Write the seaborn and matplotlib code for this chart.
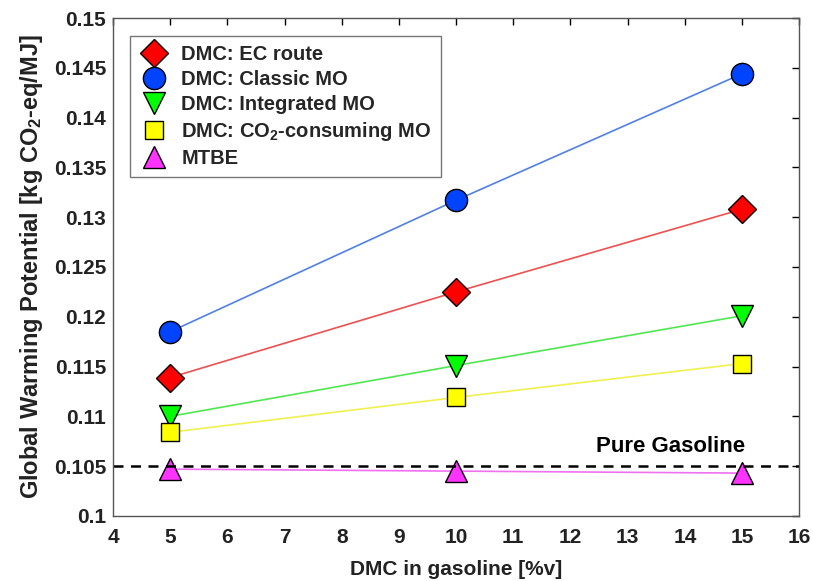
import matplotlib
matplotlib.use("Agg")
import matplotlib.pyplot as plt
import seaborn as sns
import pandas as pd

sns.set_theme(style="white")
plt.rcParams["font.family"] = ["Liberation Sans", "DejaVu Sans"]
plt.rcParams["mathtext.fontset"] = "custom"
plt.rcParams["mathtext.rm"] = "Liberation Sans:bold"
plt.rcParams["mathtext.default"] = "rm"

# data
dmc_share = [5, 10, 15]
ec_route = [0.1139, 0.1225, 0.1308]
classic_mo = [0.1185, 0.1317, 0.1444]
integrated_mo = [0.1100, 0.1151, 0.1201]
co2_consuming_mo = [0.1084, 0.1119, 0.1153]
mtbe = [0.1047, 0.1045, 0.1043]
pure_gasoline = 0.105

series = [
    ("DMC: EC route", ec_route, "#f05050", "#ff0000", "D", 14),
    ("DMC: Classic MO", classic_mo, "#5080e8", "#0044ff", "o", 16),
    ("DMC: Integrated MO", integrated_mo, "#50e850", "#00ff00", "v", 16),
    ("DMC: CO$_2$-consuming MO", co2_consuming_mo, "#f0f050", "#ffff00", "s", 12.5),
    ("MTBE", mtbe, "#f070f0", "#ff33ff", "^", 16),
]

fig, ax = plt.subplots(figsize=(8.13, 5.81), dpi=100)
fig.subplots_adjust(left=0.139, right=0.983, top=0.969, bottom=0.112)

for label, vals, lc, fc, mk, ms in series:
    df = pd.DataFrame({"x": dmc_share, "y": vals})
    sns.lineplot(data=df, x="x", y="y", ax=ax, color=lc, linewidth=1.2,
                 marker=mk, markersize=ms, markerfacecolor=fc,
                 markeredgecolor="black", markeredgewidth=1.0, label=label)

ax.axhline(pure_gasoline, color="black", linestyle="--", linewidth=1.8, dashes=(4, 3))
ax.text(15.05, 0.1059, "Pure Gasoline", ha="right", va="bottom",
        fontsize=16, fontweight="bold", color="black")

ax.set_xlim(4, 16)
ax.set_ylim(0.1, 0.15)
ax.set_xticks(range(4, 17))
yt = [0.1 + 0.005 * i for i in range(11)]
ax.set_yticks(yt)
ax.set_yticklabels([f"{v:.3f}".rstrip("0") for v in yt])
ax.tick_params(direction="in", length=5, width=1, top=True, right=True,
               labelsize=15, colors="black", pad=5)
ax.tick_params(axis="x", pad=9)
for lab in ax.get_xticklabels() + ax.get_yticklabels():
    lab.set_fontweight("bold")
    lab.set_color("#222222")
for sp in ax.spines.values():
    sp.set_color("#555555")
    sp.set_linewidth(1)

ax.set_xlabel("DMC in gasoline [%v]", fontsize=15, fontweight="bold", color="#222222",
              labelpad=9)
ax.set_ylabel("Global Warming Potential [kg CO$_2$-eq/MJ]", fontsize=17,
              fontweight="bold", color="#222222", labelpad=6)

leg = ax.legend(loc="upper left", fontsize=14.5, frameon=True, fancybox=False,
                edgecolor="#555555", borderpad=0.45, labelspacing=0.3,
                handlelength=1.5, handletextpad=0.6, bbox_to_anchor=(0.01, 0.985))
leg.get_frame().set_linewidth(1)
for t in leg.get_texts():
    t.set_fontweight("bold")
for h in leg.get_lines():
    h.set_linestyle("none")

fig.savefig("out.png", dpi=100)
